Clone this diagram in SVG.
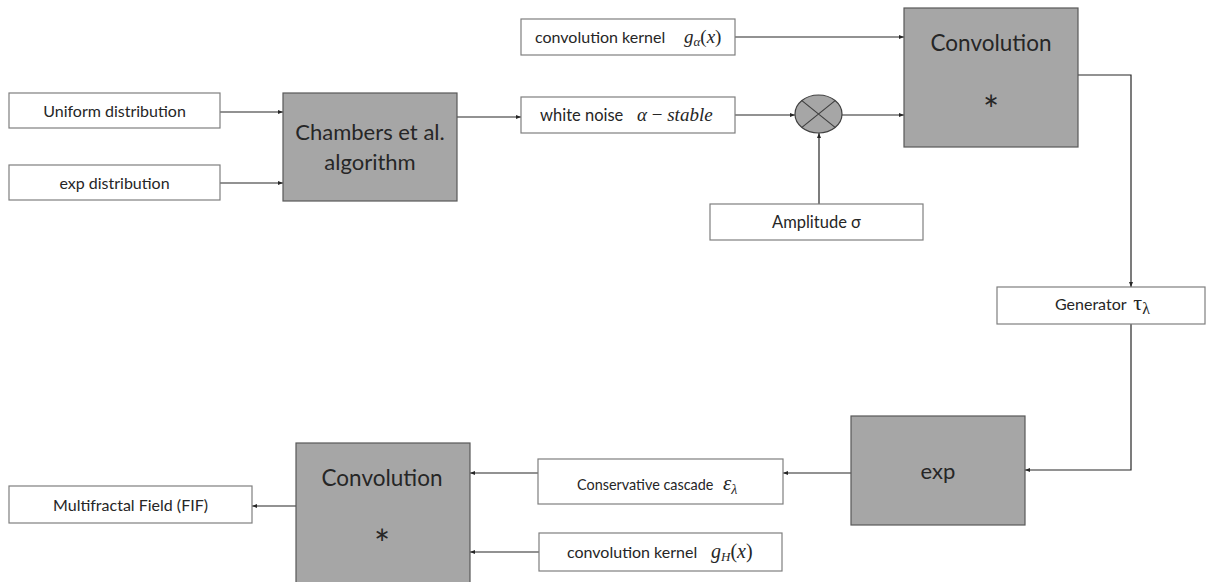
<svg xmlns="http://www.w3.org/2000/svg" width="1206" height="582" viewBox="0 0 1206 582">
<defs>
<marker id="ah" markerWidth="6" markerHeight="6" refX="5" refY="3" orient="auto" markerUnits="userSpaceOnUse">
<path d="M0,1 L5,3 L0,5 Z" fill="#262626"/>
</marker>
<style>
.box{fill:#ffffff;stroke:#7f7f7f;stroke-width:1.2}
.gbox{fill:#a6a6a6;stroke:#595959;stroke-width:1.2}
.t{font-family:Lato,"Open Sans","Liberation Sans",sans-serif;fill:#262626}
.m{font-family:"Liberation Serif","DejaVu Serif",serif;font-style:italic;fill:#262626}
.c{fill:none;stroke:#262626;stroke-width:1.2;marker-end:url(#ah)}
</style>
</defs>
<rect width="1206" height="582" fill="#ffffff"/>
<g id="connectors">
<path class="c" d="M220,112 H283"/>
<path class="c" d="M220,183 H283"/>
<path class="c" d="M457,117 H521"/>
<path class="c" d="M735,115 H795"/>
<path class="c" d="M842,115 H904"/>
<path class="c" d="M735,37 H904"/>
<path class="c" d="M819,204 V133"/>
<path class="c" d="M1078,75 H1131 V287"/>
<path class="c" d="M1131,324 V470 H1025"/>
<path class="c" d="M851,473 H783"/>
<path class="c" d="M538,473 H470"/>
<path class="c" d="M539,552 H470"/>
<path class="c" d="M296,506 H252"/>
</g>
<g id="uniform">
<rect class="box" x="9" y="93" width="211" height="35"/>
<text class="t" x="114.5" y="117" font-size="16" text-anchor="middle">Uniform distribution</text>
</g>
<g id="expdist">
<rect class="box" x="9" y="165" width="211" height="35"/>
<text class="t" x="114.5" y="189" font-size="16" text-anchor="middle">exp distribution</text>
</g>
<g id="chambers">
<rect class="gbox" x="283" y="93" width="174" height="108"/>
<text class="t" x="370" y="140" font-size="22" text-anchor="middle">Chambers et al.</text>
<text class="t" x="370" y="170" font-size="22" text-anchor="middle">algorithm</text>
</g>
<g id="kernelA">
<rect class="box" x="521" y="19" width="214" height="36"/>
<text class="t" x="535" y="43" font-size="16">convolution kernel</text>
<text class="m" x="684" y="43" font-size="19">g<tspan font-size="13" dy="3">α</tspan><tspan dy="-3" font-style="normal">(</tspan>x<tspan font-style="normal">)</tspan></text>
</g>
<g id="whitenoise">
<rect class="box" x="521" y="97" width="214" height="36"/>
<text class="t" x="540" y="121" font-size="16.5">white noise</text>
<text class="m" x="637" y="121" font-size="19">α <tspan font-style="normal">−</tspan> stable</text>
</g>
<g id="multiplier">
<ellipse cx="818.5" cy="114" rx="23.5" ry="19" fill="#a6a6a6" stroke="#404040" stroke-width="1.2"/>
<path d="M801.9,100.6 L835.1,127.4 M835.1,100.6 L801.9,127.4" stroke="#404040" stroke-width="1.2"/>
</g>
<g id="amplitude">
<rect class="box" x="710" y="204" width="213" height="36"/>
<text class="t" x="816.5" y="228" font-size="16.5" text-anchor="middle">Amplitude σ</text>
</g>
<g id="convTop">
<rect class="gbox" x="904" y="8" width="174" height="139"/>
<text class="t" x="991" y="51" font-size="22.5" text-anchor="middle">Convolution</text>
<text class="t" x="991" y="124" font-size="38" text-anchor="middle">*</text>
</g>
<g id="generator">
<rect class="box" x="997" y="287" width="208" height="37"/>
<text class="t" x="1055" y="310" font-size="16">Generator <tspan font-family="Liberation Serif,serif" font-size="22" dx="3">τ</tspan><tspan font-family="Liberation Serif,serif" font-size="16" dy="4">λ</tspan></text>
</g>
<g id="exp">
<rect class="gbox" x="851" y="416" width="174" height="109"/>
<text class="t" x="938" y="479" font-size="22" text-anchor="middle">exp</text>
</g>
<g id="cascade">
<rect class="box" x="538" y="459" width="245" height="45"/>
<text class="t" x="577" y="490" font-size="14.4">Conservative cascade</text>
<text class="m" x="723" y="490" font-size="21">ε<tspan font-size="14" dy="4">λ</tspan></text>
</g>
<g id="kernelH">
<rect class="box" x="539" y="533" width="243" height="38"/>
<text class="t" x="567" y="558" font-size="16">convolution kernel</text>
<text class="m" x="711" y="558" font-size="20">g<tspan font-size="13" dy="3">H</tspan><tspan dy="-3" font-style="normal">(</tspan>x<tspan font-style="normal">)</tspan></text>
</g>
<g id="convBottom">
<rect class="gbox" x="296" y="443" width="174" height="145"/>
<text class="t" x="382" y="486" font-size="22.5" text-anchor="middle">Convolution</text>
<text class="t" x="382" y="558" font-size="38" text-anchor="middle">*</text>
</g>
<g id="multifractal">
<rect class="box" x="9" y="486" width="243" height="37"/>
<text class="t" x="130.5" y="511" font-size="16" text-anchor="middle">Multifractal Field (FIF)</text>
</g>
</svg>
